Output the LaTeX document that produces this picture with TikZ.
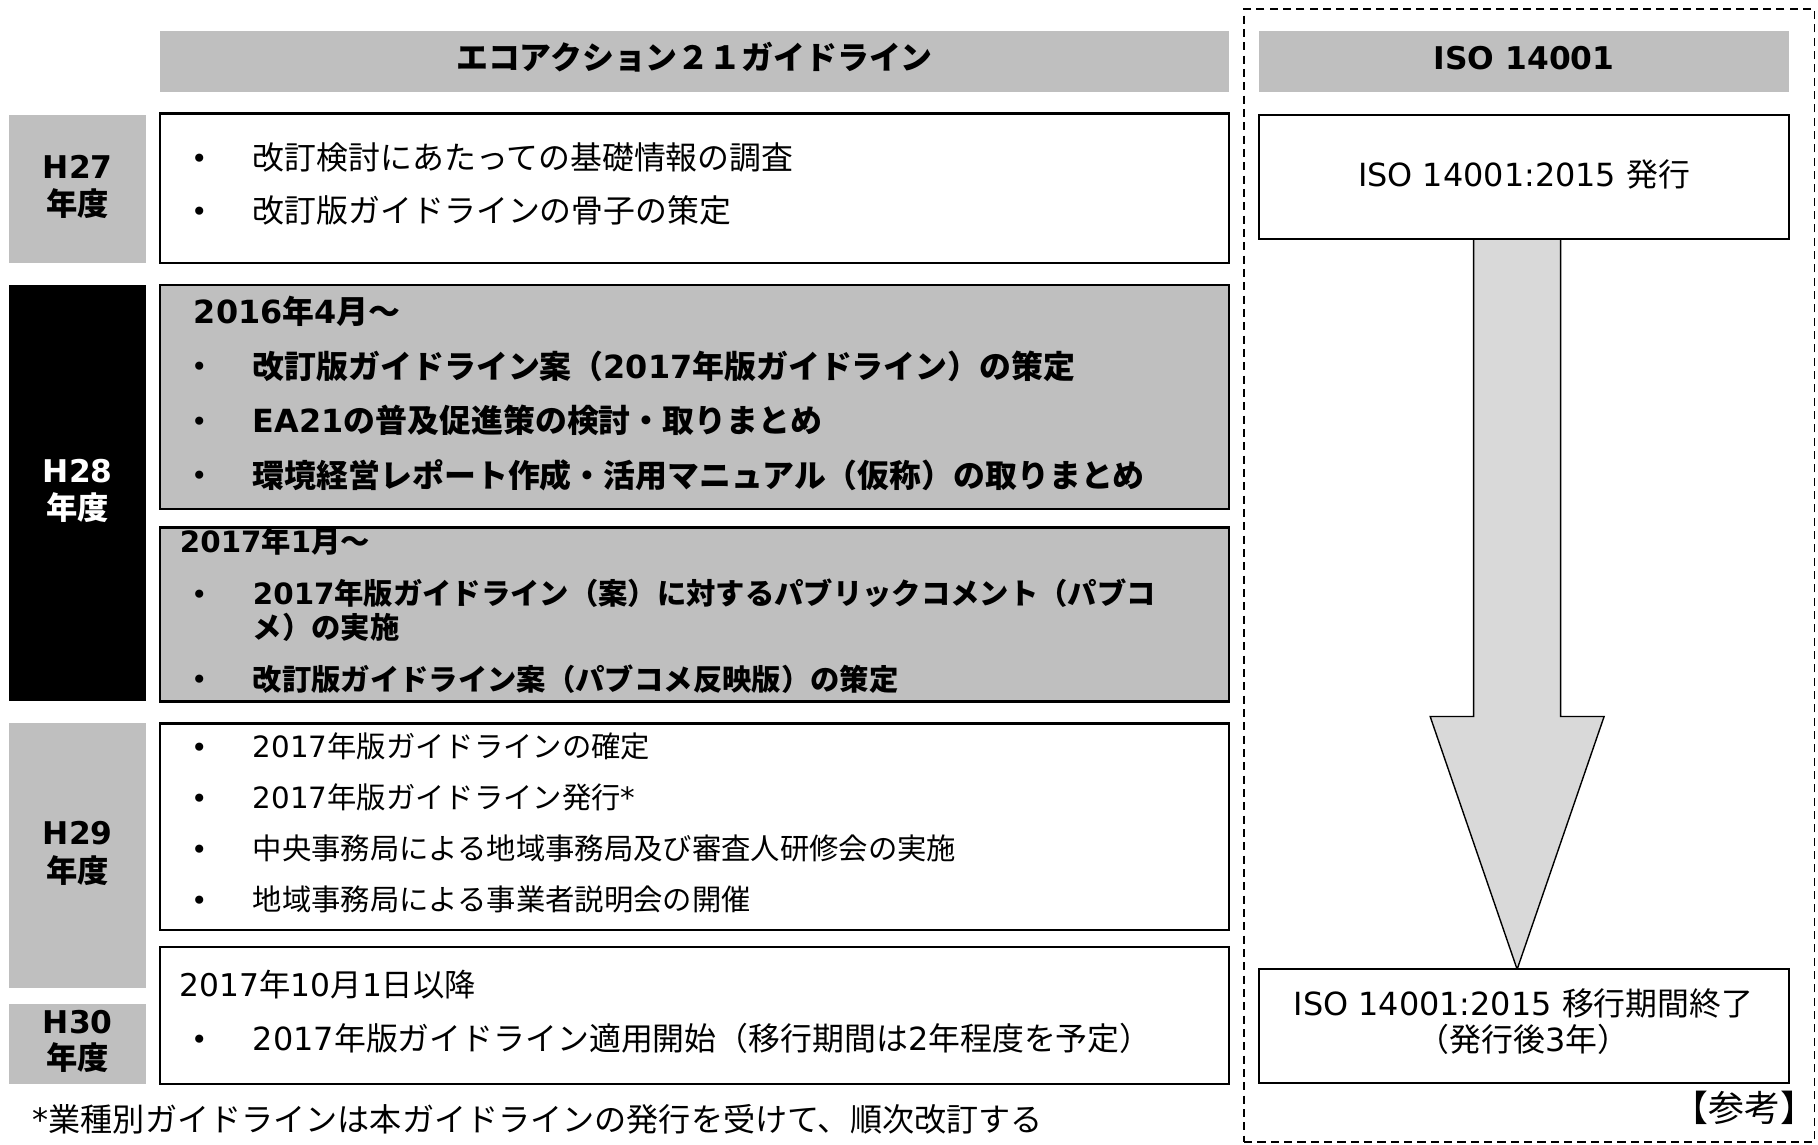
\documentclass[tikz,border=0pt]{standalone}
\usepackage{fontspec}
\setmainfont{Noto Sans CJK JP}
\newfontfamily\latf{DejaVu Sans}
\newcommand\lat[1]{{\latf #1}}
\usetikzlibrary{calc,backgrounds}
\definecolor{hdrgray}{HTML}{BFBFBF}
\definecolor{arrowgray}{HTML}{D9D9D9}
\begin{document}
\begin{tikzpicture}[x=1pt,y=-1pt,
  fA/.style={font=\fontsize{27.5}{33}\selectfont, text height=24pt, text depth=3.5pt},
  fB/.style={font=\fontsize{25.3}{30}\selectfont, text height=22.1pt, text depth=3.2pt},
  fC/.style={font=\fontsize{25.3}{30}\selectfont\bfseries, text height=22.1pt, text depth=3.2pt},
  fK/.style={font=\fontsize{31}{36}\selectfont, text height=27pt, text depth=4pt},
  rect/.style={anchor=north west, inner sep=0, outer sep=0},
  whitebox/.style={rect, draw=black, line width=2pt, fill=white},
  graybox/.style={rect, draw=black, line width=2pt, fill=hdrgray},
  hdr/.style={rect, fill=hdrgray},
  yearbox/.style={rect, fill=hdrgray},
  blackyear/.style={rect, fill=black},
  ln/.style={anchor=west, inner sep=0},
  bul/.style={anchor=center, inner sep=0, font=\fontsize{24}{24}\selectfont\latf, text height=17.9pt, text depth=0pt},
  ctr/.style={anchor=center, inner sep=0},
  refbox/.style={rect, draw=black, line width=1.5pt, dash pattern=on 7pt off 4.5pt},
  arrowsty/.style={draw=black, line width=1.2pt, fill=arrowgray, line join=miter}
]
\useasboundingbox (0,0) rectangle (1568,987);

% dashed reference frame
\node[refbox, minimum width=492pt, minimum height=977pt] (ref) at (1073,8) {};

% headers
\node[hdr, minimum width=922pt, minimum height=52pt] (hl) at (138,27) {};
\node[ctr, fA, font=\fontsize{27.5}{33}\selectfont\bfseries] (hlt) at ($(hl.center)+(0,-3)$) {エコアクション２１ガイドライン};
\node[hdr, minimum width=457pt, minimum height=52pt] (hr) at (1086,27) {};
\node[ctr, fA, font=\fontsize{27}{33}\selectfont\bfseries\latf] (hrt) at ($(hr.center)+(0,-3)$) {ISO 14001};

% year labels
\node[yearbox, minimum width=118pt, minimum height=128pt] (y27) at (8,99) {};
\node[ctr, fA, font=\fontsize{27}{33}\selectfont\bfseries] (y27a) at (67,144) {\lat{H27}};
\node[ctr, fA, font=\fontsize{27}{33}\selectfont\bfseries] (y27b) at (67,176) {年度};
\node[blackyear, minimum width=118pt, minimum height=359pt] (y28) at (8,246) {};
\node[ctr, fA, text=white, font=\fontsize{27}{33}\selectfont\bfseries] (y28a) at (67,406) {\lat{H28}};
\node[ctr, fA, text=white, font=\fontsize{27}{33}\selectfont\bfseries] (y28b) at (67,438) {年度};
\node[yearbox, minimum width=118pt, minimum height=228pt] (y29) at (8,624) {};
\node[ctr, fA, font=\fontsize{27}{33}\selectfont\bfseries] (y29a) at (67,718) {\lat{H29}};
\node[ctr, fA, font=\fontsize{27}{33}\selectfont\bfseries] (y29b) at (67,751) {年度};
\node[yearbox, minimum width=118pt, minimum height=69pt] (y30) at (8,866) {};
\node[ctr, fA, font=\fontsize{27}{33}\selectfont\bfseries] (y30a) at (67,881) {\lat{H30}};
\node[ctr, fA, font=\fontsize{27}{33}\selectfont\bfseries] (y30b) at (67,912) {年度};

% box 1 (H27)
\node[whitebox, minimum width=922pt, minimum height=129pt] (b1) at (138,98) {};
\node[bul] (b1b1) at (172,136) {•};
\node[ln, fA] (b1l1) at (218,136) {改訂検討にあたっての基礎情報の調査};
\node[bul] (b1b2) at (172,182) {•};
\node[ln, fA] (b1l2) at (218,182) {改訂版ガイドラインの骨子の策定};

% box 2 (H28, first half)
\node[graybox, minimum width=922pt, minimum height=193pt] (b2) at (138,246) {};
\node[ln, fA, font=\fontsize{27.5}{33}\selectfont\bfseries] (b2h) at (167,269) {\lat{2016}年\lat{4}月～};
\node[bul] (b2b1) at (172,316) {•};
\node[ln, fA, font=\fontsize{27.5}{33}\selectfont\bfseries] (b2l1) at (218,316) {改訂版ガイドライン案（\lat{2017}年版ガイドライン）の策定};
\node[bul] (b2b2) at (172,363) {•};
\node[ln, fA, font=\fontsize{27.5}{33}\selectfont\bfseries] (b2l2) at (218,363) {\lat{EA21}の普及促進策の検討・取りまとめ};
\node[bul] (b2b3) at (172,410) {•};
\node[ln, fA, font=\fontsize{27.5}{33}\selectfont\bfseries] (b2l3) at (218,410) {環境経営レポート作成・活用マニュアル（仮称）の取りまとめ};

% box 3 (H28, second half)
\node[graybox, minimum width=922pt, minimum height=150pt] (b3) at (138,455) {};
\node[ln, fC] (b3h) at (155,467) {\lat{2017}年\lat{1}月～};
\node[bul] (b3b1) at (172,512) {•};
\node[ln, fC] (b3l1) at (218,512) {\lat{2017}年版ガイドライン（案）に対するパブリックコメント（パブコ};
\node[ln, fC] (b3l1b) at (218,541) {メ）の実施};
\node[bul] (b3b2) at (172,586) {•};
\node[ln, fC] (b3l2) at (218,586) {改訂版ガイドライン案（パブコメ反映版）の策定};

% box 4 (H29)
\node[whitebox, minimum width=922pt, minimum height=178pt] (b4) at (138,624) {};
\node[bul] (b4b1) at (172,644) {•};
\node[ln, fB] (b4l1) at (218,644) {\lat{2017}年版ガイドラインの確定};
\node[bul] (b4b2) at (172,688) {•};
\node[ln, fB] (b4l2) at (218,688) {\lat{2017}年版ガイドライン発行\lat{*}};
\node[bul] (b4b3) at (172,732) {•};
\node[ln, fB] (b4l3) at (218,732) {中央事務局による地域事務局及び審査人研修会の実施};
\node[bul] (b4b4) at (172,776) {•};
\node[ln, fB] (b4l4) at (218,776) {地域事務局による事業者説明会の開催};

% box 5 (H29/H30)
\node[whitebox, minimum width=922pt, minimum height=118pt] (b5) at (138,817) {};
\node[ln, fA, font=\fontsize{27}{33}\selectfont] (b5h) at (155,849) {\lat{2017}年\lat{10}月\lat{1}日以降};
\node[bul] (b5b1) at (172,896) {•};
\node[ln, fA, font=\fontsize{27.5}{33}\selectfont] (b5l1) at (218,896) {\lat{2017}年版ガイドライン適用開始（移行期間は\lat{2}年程度を予定）};

% footnote
\node[ln, fA, font=\fontsize{27.7}{33}\selectfont] (foot) at (28,966) {\lat{*}業種別ガイドラインは本ガイドラインの発行を受けて、順次改訂する};

% ISO boxes
\node[whitebox, minimum width=457pt, minimum height=107pt] (r1) at (1086,99) {};
\node[ctr, fA] (r1t) at ($(r1.center)+(0,-2)$) {\lat{ISO 14001:2015 }発行};
\node[whitebox, minimum width=457pt, minimum height=98pt] (r2) at (1086,836) {};
\node[ctr, fA] (r2t1) at (1314,866) {\lat{ISO 14001:2015 }移行期間終了};
\node[ctr, fA] (r2t2) at (1314,897) {（発行後\lat{3}年）};
\node[anchor=east, inner sep=0, fK] (sanko) at (1567,956) {【参考】};

% big arrow between the ISO boxes
\path (r1.south) ++(-6,0) coordinate (atop);
\path (r2.north) ++(-6,0) coordinate (atip);
\begin{scope}[on background layer]
\draw[arrowsty] ($(atop)+(-37.5,0)$) -- ($(atop)+(-37.5,412)$) -- ($(atop)+(-75,412)$)
  -- (atip) -- ($(atop)+(75,412)$) -- ($(atop)+(37.5,412)$) -- ($(atop)+(37.5,0)$) -- cycle;
\end{scope}
\end{tikzpicture}
\end{document}
